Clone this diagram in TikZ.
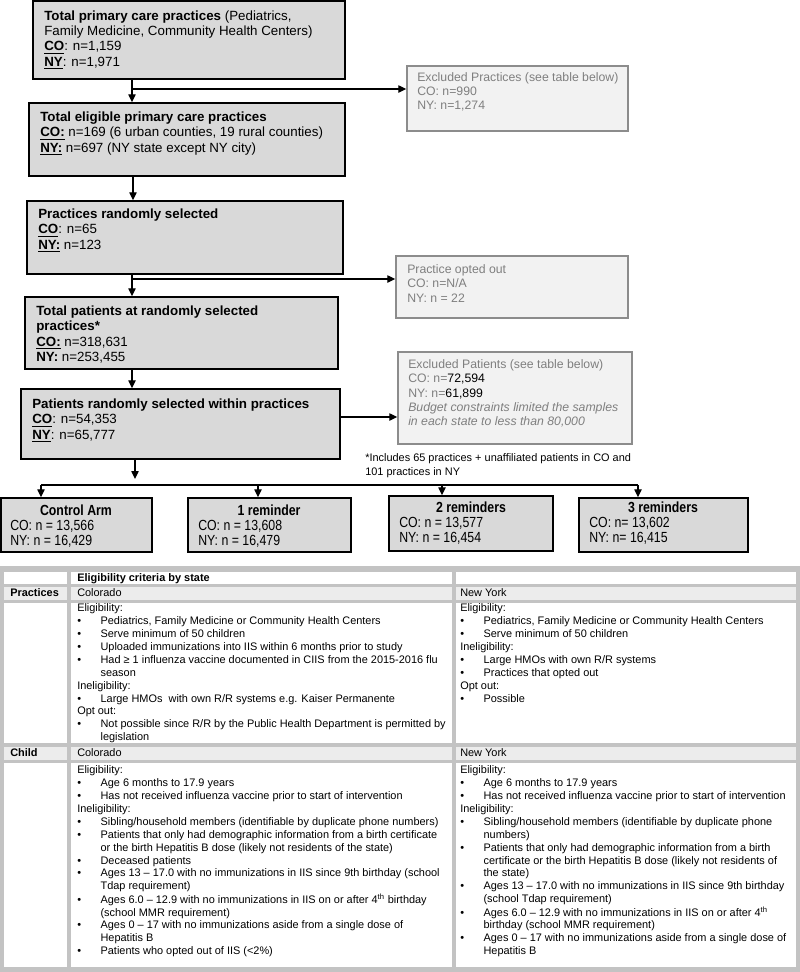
\documentclass[tikz,border=0pt]{standalone}
\usepackage{fontspec}
\setmainfont{Liberation Sans}
\newfontfamily\narrowfont[FakeStretch=0.84]{Liberation Sans}
\usetikzlibrary{arrows.meta,fit}
\definecolor{boxfill}{HTML}{D9D9D9}
\definecolor{exfill}{HTML}{F2F2F2}
\definecolor{exline}{HTML}{8C8C8C}
\definecolor{extext}{HTML}{7F7F7F}
\definecolor{tabgray}{HTML}{C3C3C3}
\definecolor{cellgray}{HTML}{ECECEC}
\newcommand\ml[1]{\begin{tabular}[t]{@{}l@{}}#1\end{tabular}}
\newcommand\bu{\makebox[17.5pt][l]{\textbullet}}
\newcommand\bi{\hspace*{17.5pt}}
\newcommand\ub[1]{\underline{\textbf{#1}}}
\begin{document}
\begin{tikzpicture}[x=0.75pt,y=-0.75pt,
  flowbox/.style={draw=black, fill=boxfill, line width=1.1pt, inner sep=0pt},
  exbox/.style={draw=exline, fill=exfill, line width=1.1pt, inner sep=0pt},
  armbox/.style={draw=black, fill=boxfill, line width=1.1pt, inner sep=0pt},
  ftxt/.style={anchor=base west, inner sep=0pt, font=\fontsize{10}{11.6}\selectfont},
  etxt/.style={anchor=base west, inner sep=0pt, text=extext, font=\fontsize{9.2}{10.7}\selectfont},
  atitle/.style={anchor=base, inner sep=0pt, font=\narrowfont\bfseries\fontsize{11}{11.3}\selectfont},
  atxt/.style={anchor=base west, inner sep=0pt, font=\narrowfont\fontsize{11}{11.3}\selectfont},
  ttxt/.style={anchor=base west, inner sep=0pt, font=\fontsize{8.2}{9.7}\selectfont},
  notetxt/.style={anchor=base west, inner sep=0pt, font=\fontsize{8.2}{10.5}\selectfont},
  arr/.style={-{Triangle[length=6pt,width=5.5pt]}, line width=1pt},
  conn/.style={line width=1pt}]
\useasboundingbox (0,0) rectangle (800,972);
\fill[white] (0,0) rectangle (800,972);

% ---------- flow boxes ----------
\node[flowbox, fit={(33,1)(345,79)}] (b1) {};
\node[ftxt] (b1t) at (44,20) {\ml{\textbf{Total primary care practices} (Pediatrics,\\
  Family Medicine, Community Health Centers)\\
  \ub{CO}: n=1,159\\
  \ub{NY}: n=1,971}};

\node[exbox, fit={(407,66)(628,131)}] (ex1) {};
\node[etxt] (ex1t) at (417,81) {\ml{Excluded Practices (see table below)\\
  CO: n=990\\ NY: n=1,274}};

\node[flowbox, fit={(29,103)(345,176)}] (b2) {};
\node[ftxt] (b2t) at (40,121.5) {\ml{\textbf{Total eligible primary care practices}\\
  \ub{CO:} n=169 (6 urban counties, 19 rural counties)\\
  \ub{NY:} n=697 (NY state except NY city)}};

\node[flowbox, fit={(27,201)(343,274)}] (b3) {};
\node[ftxt] (b3t) at (38,218.5) {\ml{\textbf{Practices randomly selected}\\
  \ub{CO}: n=65\\
  \ub{NY:} n=123}};

\node[exbox, fit={(396,256)(628,318)}] (opt) {};
\node[etxt] (optt) at (407,273.5) {\ml{Practice opted out\\
  CO: n=N/A\\ NY: n = 22}};

\node[flowbox, fit={(25,297)(338,369)}] (b4) {};
\node[ftxt] (b4t) at (36,315.5) {\ml{\textbf{Total patients at randomly selected}\\
  \textbf{practices*}\\
  \ub{CO:} n=318,631\\
  \textbf{NY:} n=253,455}};

\node[flowbox, fit={(21,389)(340,459)}] (b5) {};
\node[ftxt] (b5t) at (32,408.5) {\ml{\textbf{Patients randomly selected within practices}\\
  \ub{CO}: n=54,353\\
  \ub{NY}: n=65,777}};

\node[exbox, fit={(398,352)(632,444)}] (exP) {};
\node[etxt] (exPt) at (408,368.5) {\ml{Excluded Patients (see table below)\\
  CO: n=\textcolor{black}{72,594}\\
  NY: n=\textcolor{black}{61,899}\\
  \textit{Budget constraints limited the samples}\\
  \textit{in each state to less than 80,000}}};

\node[notetxt] (note) at (365,461) {\ml{*Includes 65 practices + unaffiliated patients in CO and\\
  101 practices in NY}};

% ---------- arm boxes ----------
\node[armbox, fit={(1,498)(152,552)}] (arm0) {};
\node[atitle] (arm0t) at (76,515) {Control Arm};
\node[atxt] (arm0n) at (10,530) {\ml{CO: n = 13,566\\ NY: n = 16,429}};

\node[armbox, fit={(188,498)(351,552)}] (arm1) {};
\node[atitle] (arm1t) at (269,515) {1 reminder};
\node[atxt] (arm1n) at (198,530) {\ml{CO: n = 13,608\\ NY: n = 16,479}};

\node[armbox, fit={(389,496)(553,551)}] (arm2) {};
\node[atitle] (arm2t) at (471,512) {2 reminders};
\node[atxt] (arm2n) at (399,527) {\ml{CO: n = 13,577\\ NY: n = 16,454}};

\node[armbox, fit={(579,498)(748,552)}] (arm3) {};
\node[atitle] (arm3t) at (663,512) {3 reminders};
\node[atxt] (arm3n) at (589,527) {\ml{CO: n= 13,602\\ NY: n= 16,415}};

% ---------- connectors ----------
\coordinate (j1) at (132,89);
\draw[arr] (j1 |- b1.south) -- (j1 |- b2.north);
\draw[arr] (j1) -- (j1 -| ex1.west);
\coordinate (j2) at (133,190);
\draw[arr] (j2 |- b2.south) -- (j2 |- b3.north);
\coordinate (j3) at (132,279);
\draw[arr] (j3 |- b3.south) -- (j3 |- b4.north);
\draw[arr] (j3) -- (j3 -| opt.west);
\coordinate (j4) at (132,380);
\draw[arr] (j4 |- b4.south) -- (j4 |- b5.north);
\coordinate (j5) at (340,417);
\draw[arr] (j5 -| b5.east) -- (j5 -| exP.west);
\coordinate (j6) at (135,479);
\draw[arr] (j6 |- b5.south) -- (j6);
\coordinate (h0) at (41,485);
\coordinate (h1) at (258,485);
\coordinate (h2) at (442,485);
\coordinate (h3) at (638,485);
\draw[conn] (h0) -- (h3);
\draw[arr] (h0) -- (h0 |- arm0.north);
\draw[arr] (h1) -- (h1 |- arm1.north);
\draw[arr] (h2) -- (h2 |- arm2.north);
\draw[arr] (h3) -- (h3 |- arm3.north);

% ---------- table ----------
\fill[tabgray] (0,566) rectangle (800,972);
\fill[white] (4,572) rectangle (67,584);
\fill[white] (71,572) rectangle (452,584);
\fill[white] (456,572) rectangle (796,584);
\fill[cellgray] (4,587) rectangle (67,600);
\fill[cellgray] (71,587) rectangle (452,600);
\fill[cellgray] (456,587) rectangle (796,600);
\fill[white] (4,603) rectangle (67,743);
\fill[white] (71,603) rectangle (452,743);
\fill[white] (456,603) rectangle (796,743);
\fill[cellgray] (4,747) rectangle (67,760);
\fill[cellgray] (71,747) rectangle (452,760);
\fill[cellgray] (456,747) rectangle (796,760);
\fill[white] (4,763) rectangle (67,967);
\fill[white] (71,763) rectangle (452,967);
\fill[white] (456,763) rectangle (796,967);

\node[ttxt] (th) at (77,581.5) {\textbf{Eligibility criteria by state}};
\node[ttxt] (tp) at (10,596.5) {\textbf{Practices}};
\node[ttxt] (tpco) at (77,596.5) {Colorado};
\node[ttxt] (tpny) at (460,596.5) {New York};
\node[ttxt] (tpcoc) at (77,611.5) {\ml{Eligibility:\\
  \bu Pediatrics, Family Medicine or Community Health Centers\\
  \bu Serve minimum of 50 children\\
  \bu Uploaded immunizations into IIS within 6 months prior to study\\
  \bu Had ≥ 1 influenza vaccine documented in CIIS from the 2015-2016 flu\\
  \bi season\\
  Ineligibility:\\
  \bu Large HMOs\ \ with own R/R systems e.g. Kaiser Permanente\\
  Opt out:\\
  \bu Not possible since R/R by the Public Health Department is permitted by\\
  \bi legislation}};
\node[ttxt] (tpnyc) at (460,611.5) {\ml{Eligibility:\\
  \bu Pediatrics, Family Medicine or Community Health Centers\\
  \bu Serve minimum of 50 children\\
  Ineligibility:\\
  \bu Large HMOs with own R/R systems\\
  \bu Practices that opted out\\
  Opt out:\\
  \bu Possible}};
\node[ttxt] (tc) at (10,756.5) {\textbf{Child}};
\node[ttxt] (tcco) at (77,756.5) {Colorado};
\node[ttxt] (tcny) at (460,756.5) {New York};
\node[ttxt] (tccoc) at (77,773.5) {\ml{Eligibility:\\
  \bu Age 6 months to 17.9 years\\
  \bu Has not received influenza vaccine prior to start of intervention\\
  Ineligibility:\\
  \bu Sibling/household members (identifiable by duplicate phone numbers)\\
  \bu Patients that only had demographic information from a birth certificate\\
  \bi or the birth Hepatitis B dose (likely not residents of the state)\\
  \bu Deceased patients\\
  \bu Ages 13 -- 17.0 with no immunizations in IIS since 9th birthday (school\\
  \bi Tdap requirement)\\
  \bu Ages 6.0 -- 12.9 with no immunizations in IIS on or after 4\textsuperscript{th} birthday\\
  \bi (school MMR requirement)\\
  \bu Ages 0 -- 17 with no immunizations aside from a single dose of\\
  \bi Hepatitis B\\
  \bu Patients who opted out of IIS (<2\%)}};
\node[ttxt] (tcnyc) at (460,773.5) {\ml{Eligibility:\\
  \bu Age 6 months to 17.9 years\\
  \bu Has not received influenza vaccine prior to start of intervention\\
  Ineligibility:\\
  \bu Sibling/household members (identifiable by duplicate phone\\
  \bi numbers)\\
  \bu Patients that only had demographic information from a birth\\
  \bi certificate or the birth Hepatitis B dose (likely not residents of\\
  \bi the state)\\
  \bu Ages 13 -- 17.0 with no immunizations in IIS since 9th birthday\\
  \bi (school Tdap requirement)\\
  \bu Ages 6.0 -- 12.9 with no immunizations in IIS on or after 4\textsuperscript{th}\\
  \bi birthday (school MMR requirement)\\
  \bu Ages 0 -- 17 with no immunizations aside from a single dose of\\
  \bi Hepatitis B}};
\end{tikzpicture}
\end{document}
